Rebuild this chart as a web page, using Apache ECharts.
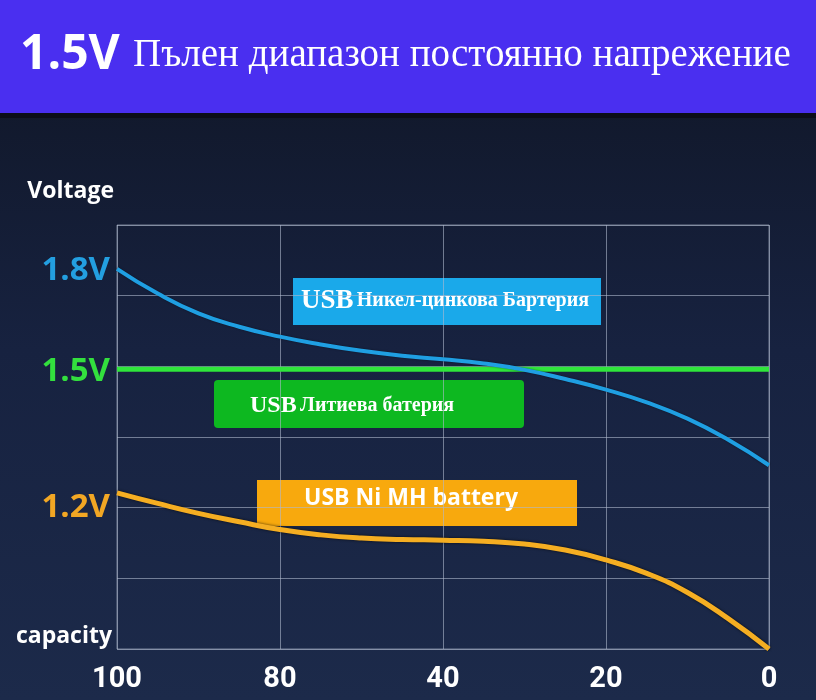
<!DOCTYPE html>
<html>
<head>
<meta charset="utf-8">
<script src="https://cdn.jsdelivr.net/npm/echarts@6/dist/echarts.min.js"></script>
<style>
  html, body { margin: 0; padding: 0; }
  #chart { width: 816px; height: 700px; }
</style>
</head>
<body>
<div id="chart"></div>
<script>
// x положения сетки (0..4) и подписи под ними
const xLabels = ['100', '80', '40', '20', '0']
const xPos = [0, 0.25, 0.5, 0.75, 1, 1.25, 1.5, 1.75, 2, 2.25, 2.5, 2.75, 3, 3.25, 3.5, 3.75, 4]

// значения в делениях сетки (0..6)
const blueVals = [5.38, 5.03, 4.75, 4.56, 4.42, 4.31, 4.22, 4.15, 4.10, 4.04, 3.95, 3.82, 3.67, 3.49, 3.26, 2.96, 2.60]
const orangeVals = [2.21, 2.06, 1.92, 1.80, 1.69, 1.615, 1.57, 1.55, 1.54, 1.525, 1.485, 1.40, 1.26, 1.07, 0.80, 0.43, 0.0]
const greenX = [0, 4]
const greenVals = [3.96, 3.96]

const yTickValues = [2.0, 3.93, 5.36]
const yTickLabels = ['1.2V', '1.5V', '1.8V']

const titleMain = '1.5V'
const titleRest = 'Пълен диапазон постоянно напрежение'
const nameBlue = 'Никел-цинкова Бартерия'
const nameGreen = 'Литиева батерия'
const nameOrange = 'USB Ni MH battery'

const SANS = '"Open Sans", "DejaVu Sans", sans-serif'
const SERIF = '"Liberation Serif", "DejaVu Serif", serif'
const NUM = 'Roboto, "Open Sans", sans-serif'

function zip(xs, ys) {
  return xs.map((x, i) => [x, ys[i]])
}

let chart = echarts.init(document.getElementById('chart'))

let gridColor = 'rgba(175,185,205,0.6)'

let option = {
  backgroundColor: {
    type: 'linear', x: 0, y: 0, x2: 0, y2: 1,
    colorStops: [
      { offset: 0, color: '#0f1524' },
      { offset: 0.5, color: '#172240' },
      { offset: 1, color: '#1c2a4a' }
    ]
  },
  animation: false,
  grid: {
    left: 117,
    right: 47,
    top: 225,
    bottom: 51,
    show: true,
    borderColor: gridColor,
    borderWidth: 1
  },
  xAxis: {
    type: 'value',
    min: 0,
    max: 4,
    interval: 1,
    name: 'capacity',
    nameLocation: 'start',
    nameGap: 5,
    nameTextStyle: {
      color: '#ffffff',
      fontFamily: SANS,
      fontWeight: 'bold',
      fontSize: 23,
      verticalAlign: 'bottom',
      lineHeight: 26
    },
    axisLine: { show: false },
    axisTick: { show: false },
    splitLine: { lineStyle: { color: gridColor, width: 1 } },
    axisLabel: {
      color: '#ffffff',
      fontFamily: NUM,
      fontWeight: 'bold',
      fontSize: 29,
      margin: 16,
      formatter: v => xLabels[v]
    }
  },
  yAxis: {
    type: 'value',
    min: 0,
    max: 6,
    interval: 1,
    name: 'Voltage',
    nameLocation: 'end',
    nameGap: 22,
    nameTextStyle: {
      color: '#ffffff',
      fontFamily: SANS,
      fontWeight: 'bold',
      fontSize: 23,
      align: 'right',
      padding: [0, 3, 0, 0]
    },
    axisLine: { show: false },
    axisTick: { show: false },
    splitLine: { lineStyle: { color: gridColor, width: 1 } },
    axisLabel: {
      customValues: yTickValues,
      margin: 7,
      formatter: (v) => {
        let i = yTickValues.indexOf(v)
        return i >= 0 ? '{c' + i + '|' + yTickLabels[i] + '}' : ''
      },
      rich: {
        c0: { color: '#f2a724', fontFamily: SANS, fontWeight: 'bold', fontSize: 33 },
        c1: { color: '#33e03e', fontFamily: SANS, fontWeight: 'bold', fontSize: 33 },
        c2: { color: '#239fe0', fontFamily: SANS, fontWeight: 'bold', fontSize: 33 }
      }
    }
  },
  series: [
    {
      name: nameBlue,
      type: 'line',
      smooth: 0.5,
      showSymbol: false,
      data: zip(xPos, blueVals),
      lineStyle: {
        color: '#1f9fe2',
        width: 4,
        shadowColor: 'rgba(0,0,0,0.5)',
        shadowBlur: 2
      },
      z: 3
    },
    {
      name: nameGreen,
      type: 'line',
      showSymbol: false,
      data: zip(greenX, greenVals),
      lineStyle: { color: '#2fe63b', width: 5 },
      z: 2
    },
    {
      name: nameOrange,
      type: 'line',
      smooth: 0.5,
      showSymbol: false,
      data: zip(xPos, orangeVals),
      lineStyle: {
        color: '#f5ae22',
        width: 5,
        shadowColor: 'rgba(0,0,0,0.7)',
        shadowBlur: 3
      },
      z: 3
    }
  ],
  graphic: [
    // шапка
    {
      type: 'rect',
      left: 0,
      top: 0,
      shape: { width: 816, height: 113 },
      style: { fill: '#4a2ff0' },
      z: 0
    },
    {
      type: 'rect',
      left: 0,
      top: 113,
      shape: { width: 816, height: 5 },
      style: { fill: '#0c0e1a' },
      z: 0
    },
    {
      type: 'text',
      left: 20,
      top: 31,
      style: {
        text: titleMain,
        fill: '#ffffff',
        font: 'bold 48px ' + SANS
      },
      z: 10
    },
    {
      type: 'text',
      left: 133,
      top: 36,
      style: {
        text: titleRest,
        fill: '#ffffff',
        font: '39px ' + SERIF
      },
      z: 10
    },
    // подписи серий
    {
      type: 'group',
      left: 293,
      top: 278,
      z: 10,
      children: [
        {
          type: 'rect',
          shape: { width: 308, height: 47 },
          style: { fill: '#1aa9ea' }
        },
        {
          type: 'text',
          x: 152,
          y: 23,
          style: {
            text: '{u|USB} {t|' + nameBlue + '}',
            align: 'center',
            verticalAlign: 'middle',
            rich: {
              u: { fontFamily: SERIF, fontWeight: 'bold', fontSize: 27, fill: '#ffffff' },
              t: { fontFamily: SERIF, fontWeight: 'bold', fontSize: 20, fill: '#ffffff' }
            }
          }
        }
      ]
    },
    {
      type: 'group',
      left: 214,
      top: 380,
      z: 10,
      children: [
        {
          type: 'rect',
          shape: { width: 310, height: 48, r: 4 },
          style: { fill: '#0db820' }
        },
        {
          type: 'text',
          x: 36,
          y: 26,
          style: {
            text: '{u|USB} {t|' + nameGreen + '}',
            align: 'left',
            verticalAlign: 'middle',
            rich: {
              u: { fontFamily: SERIF, fontWeight: 'bold', fontSize: 24, fill: '#ffffff' },
              t: { fontFamily: SERIF, fontWeight: 'bold', fontSize: 20, fill: '#ffffff' }
            }
          }
        }
      ]
    },
    {
      type: 'group',
      left: 257,
      top: 480,
      z: 10,
      children: [
        {
          type: 'rect',
          shape: { width: 320, height: 46 },
          style: { fill: '#f8a90d' }
        },
        {
          type: 'text',
          x: 154,
          y: 18,
          style: {
            text: nameOrange,
            align: 'center',
            verticalAlign: 'middle',
            fill: '#ffffff',
            font: 'bold 23px ' + SANS
          }
        }
      ]
    }
  ]
}

chart.setOption(option)
window.onresize = function () {
  chart.resize()
}
</script>
</body>
</html>
